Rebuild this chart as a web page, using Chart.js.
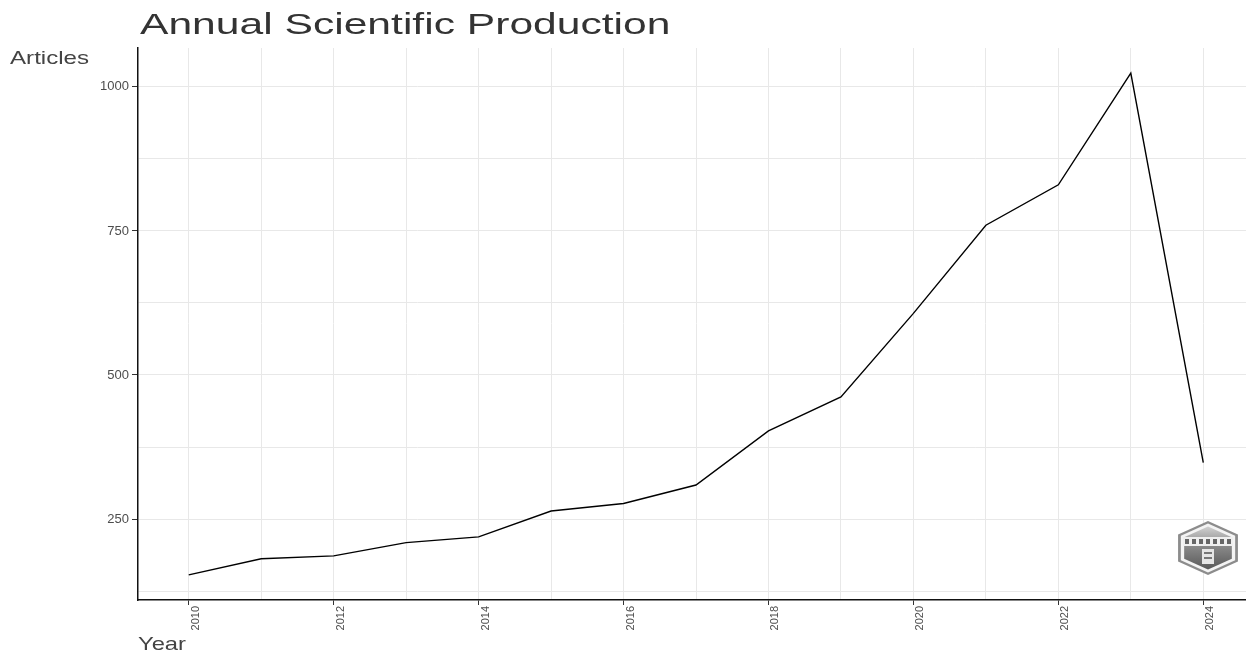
<!DOCTYPE html>
<html>
<head>
<meta charset="utf-8">
<script src="https://cdn.jsdelivr.net/npm/chart.js@4"></script>
<style>
  html, body { margin: 0; padding: 0; background: #fff; overflow: hidden; }
  #wrap { position: relative; width: 1262px; height: 654px; overflow: hidden; }
  #c { position: absolute; left: 0; top: 0; }
  .lbl { position: absolute; font-family: "Liberation Sans", Arial, sans-serif; white-space: nowrap; transform-origin: left top; }
  #title { left: 140px; top: 9px; font-size: 30px; line-height: 30px; color: #333; transform: scaleX(1.42); }
  #ytitle { left: 10px; top: 48px; font-size: 19px; line-height: 19px; color: #444; transform: scaleX(1.27); }
  #xtitle { left: 138px; top: 634px; font-size: 19px; line-height: 19px; color: #444; transform: scaleX(1.25); }
</style>
</head>
<body>
<div id="wrap">
  <canvas id="c" width="1262" height="654"></canvas>
  <div class="lbl" id="title">Annual Scientific Production</div>
  <div class="lbl" id="ytitle">Articles</div>
  <div class="lbl" id="xtitle">Year</div>
</div>
<script>
// valeurs
const years = [2010, 2011, 2012, 2013, 2014, 2015, 2016, 2017, 2018, 2019, 2020, 2021, 2022, 2023, 2024];
const articles = [153, 181, 186, 209, 219, 264, 277, 309, 403, 462, 607, 760, 830, 1024, 348];
const xTickLabels = [2010, 2012, 2014, 2016, 2018, 2020, 2022, 2024];
const yTickLabels = [250, 500, 750, 1000];

function hexPath(ctx, cx, cy, r, sx) {
    ctx.beginPath();
    for (let i = 0; i < 6; i++) {
        const a = Math.PI / 3 * i - Math.PI / 2;
        const px = cx + r * sx * Math.cos(a), py = cy + r * Math.sin(a);
        if (i === 0) ctx.moveTo(px, py); else ctx.lineTo(px, py);
    }
    ctx.closePath();
}

// petite marque hexagonale en bas a droite
const logoPlugin = {
    id: 'logo',
    afterDraw(chart) {
        const ctx = chart.ctx;
        const cx = 1208, cy = 548, sx = 1.28;
        ctx.save();
        hexPath(ctx, cx, cy, 27, sx);
        ctx.fillStyle = '#8c8c8c';
        ctx.fill();
        hexPath(ctx, cx, cy, 24.5, sx);
        ctx.fillStyle = '#f4f4f4';
        ctx.fill();
        hexPath(ctx, cx, cy, 21.5, sx);
        const g = ctx.createLinearGradient(0, cy - 21, 0, cy + 21);
        g.addColorStop(0, '#cfcfcf');
        g.addColorStop(0.45, '#8a8a8a');
        g.addColorStop(1, '#5a5a5a');
        ctx.fillStyle = g;
        ctx.fill();
        ctx.fillStyle = '#efefef';
        ctx.fillRect(cx - 25, cy - 11, 50, 9);
        ctx.fillStyle = '#666';
        for (let i = 0; i < 7; i++) ctx.fillRect(cx - 23 + i * 7, cy - 9, 4, 5);
        ctx.fillStyle = '#e6e6e6';
        ctx.fillRect(cx - 6, cy + 1, 12, 15);
        ctx.fillStyle = '#777';
        ctx.fillRect(cx - 4, cy + 4, 8, 2);
        ctx.fillRect(cx - 4, cy + 9, 8, 2);
        ctx.restore();
    }
};

const ctx = document.getElementById('c').getContext('2d');
new Chart(ctx, {
    type: 'line',
    data: {
        datasets: [{
            data: years.map((y, i) => ({ x: y, y: articles[i] })),
            borderColor: '#000',
            borderWidth: 1.4,
            pointRadius: 0,
            tension: 0,
            fill: false
        }]
    },
    options: {
        responsive: false,
        animation: false,
        layout: { padding: { top: 48, right: 8, left: 0, bottom: 0 } },
        plugins: { legend: { display: false }, tooltip: { enabled: false } },
        scales: {
            x: {
                type: 'linear',
                min: 2009.3,
                max: 2024.7,
                afterFit: s => { s.height = 54; },
                afterBuildTicks: s => { s.ticks = years.map(v => ({ value: v })); },
                grid: {
                    color: '#e8e8e8',
                    lineWidth: 1,
                    tickLength: 5,
                    tickColor: c => (c.tick && xTickLabels.includes(c.tick.value)) ? '#333' : 'rgba(0,0,0,0)'
                },
                border: { display: true, color: '#111', width: 1.5 },
                ticks: {
                    autoSkip: false,
                    minRotation: 90,
                    maxRotation: 90,
                    padding: 1,
                    labelOffset: 7,
                    color: '#4d4d4d',
                    font: { family: '"Liberation Sans", Arial, sans-serif', size: 11 },
                    callback: v => xTickLabels.includes(v) ? String(v) : ''
                }
            },
            y: {
                min: 109.5,
                max: 1067.5,
                afterFit: s => { s.width = 138; },
                afterBuildTicks: s => {
                    const t = [];
                    yTickLabels.forEach((v, i) => {
                        const prev = i === 0 ? 0 : yTickLabels[i - 1];
                        t.push({ value: (prev + v) / 2 }, { value: v });
                    });
                    s.ticks = t;
                },
                grid: {
                    color: '#e8e8e8',
                    lineWidth: 1,
                    tickLength: 6,
                    tickColor: c => (c.tick && yTickLabels.includes(c.tick.value)) ? '#333' : 'rgba(0,0,0,0)'
                },
                border: { display: true, color: '#111', width: 1.5 },
                ticks: {
                    padding: 3,
                    color: '#4d4d4d',
                    font: { family: '"Liberation Sans", Arial, sans-serif', size: 13 },
                    callback: v => yTickLabels.includes(v) ? String(v) : ''
                }
            }
        }
    },
    plugins: [logoPlugin]
});
</script>
</body>
</html>
